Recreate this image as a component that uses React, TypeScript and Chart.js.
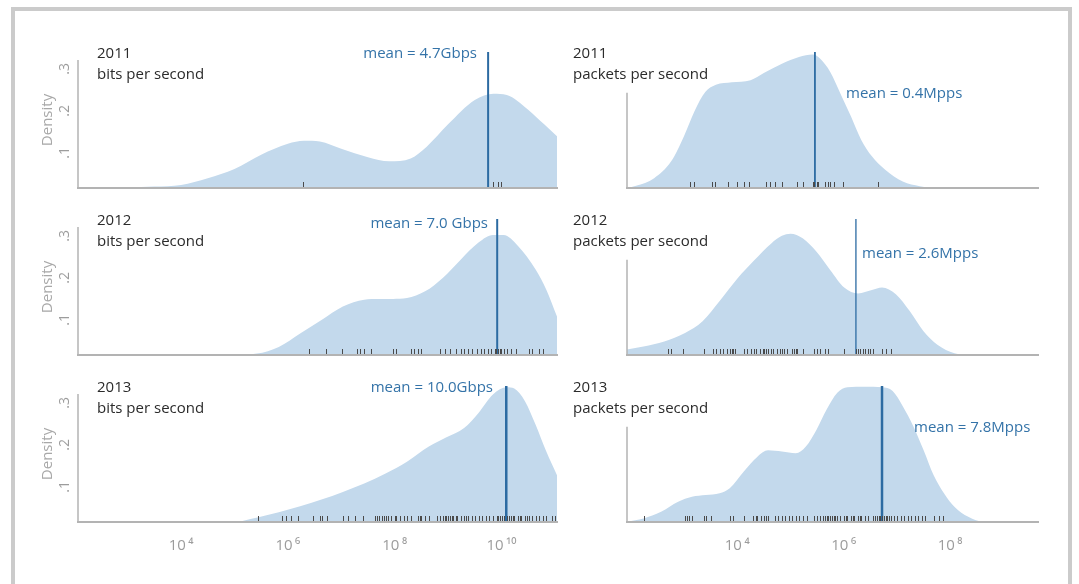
import React, { useEffect, useRef } from "react";
import { Chart, registerables } from "chart.js";

Chart.register(...registerables);

const FONT = '"Open Sans", "Noto Sans", "DejaVu Sans", sans-serif';

// ---- shared axis values ----
const densityMin = 0.0167;
const densityMax = 0.34;
const densityTicks = [0.1, 0.2, 0.3];
const densityTickLabels = [".1", ".2", ".3"];

// x axes are in log10 units
const bpsRange = [2.07, 11.04];
const ppsRange = [1.93, 9.65];
const bpsTicks = [4, 6, 8, 10];
const bpsTickLabels = ["10\u2009\u2074", "10\u2009\u2076", "10\u2009\u2078", "10\u2009\u00b9\u2070"];
const ppsTicks = [4, 6, 8];
const ppsTickLabels = ["10\u2009\u2074", "10\u2009\u2076", "10\u2009\u2078"];

// ---- 2011 bits per second ----
const bps2011X = [2.07, 2.5, 3.0, 3.5, 4.0, 4.5, 5.0, 5.5, 6.0, 6.3, 6.6, 7.0, 7.5, 7.9, 8.3, 8.6, 9.0, 9.5, 9.85, 10.1, 10.5, 10.8, 11.04];
const bps2011Y = [0.017, 0.017, 0.018, 0.02, 0.024, 0.04, 0.062, 0.096, 0.122, 0.129, 0.127, 0.11, 0.09, 0.08, 0.087, 0.115, 0.168, 0.226, 0.241, 0.238, 0.203, 0.168, 0.14];
const bps2011Rug = [6.29, 9.84, 9.93, 10.0];
const bps2011Mean = 9.75;

// ---- 2011 packets per second ----
const pps2011X = [1.93, 2.1, 2.44, 2.76, 3.0, 3.2, 3.4, 3.6, 3.9, 4.25, 4.5, 4.84, 5.16, 5.42, 5.55, 5.75, 5.94, 6.14, 6.33, 6.53, 6.78, 7.11, 7.43, 7.76, 9.65];
const pps2011Y = [0.017, 0.022, 0.04, 0.08, 0.14, 0.2, 0.245, 0.262, 0.268, 0.273, 0.29, 0.312, 0.328, 0.334, 0.325, 0.292, 0.241, 0.186, 0.131, 0.092, 0.06, 0.032, 0.021, 0.017, 0.017];
const pps2011Rug = [3.12, 3.18, 3.52, 3.59, 3.83, 4.0, 4.13, 4.22, 4.55, 4.61, 4.71, 4.84, 5.13, 5.23, 5.42, 5.45, 5.49, 5.52, 5.65, 5.71, 5.75, 5.81, 5.99, 6.65];
const pps2011Mean = 5.46;

// ---- 2012 bits per second ----
const bps2012X = [2.07, 4.0, 5.0, 5.42, 5.83, 6.23, 6.63, 7.03, 7.43, 7.7, 7.97, 8.23, 8.57, 8.9, 9.24, 9.57, 9.84, 10.04, 10.31, 10.64, 10.84, 11.04];
const bps2012Y = [0.017, 0.017, 0.017, 0.02, 0.036, 0.068, 0.1, 0.132, 0.148, 0.15, 0.15, 0.152, 0.168, 0.2, 0.244, 0.284, 0.302, 0.302, 0.276, 0.22, 0.172, 0.108];
const bps2012Rug = [6.39, 6.71, 7.02, 7.3, 7.36, 7.43, 7.56, 7.97, 8.03, 8.3, 8.37, 8.44, 8.5, 8.84, 8.94, 9.04, 9.14, 9.24, 9.3, 9.37, 9.44, 9.54, 9.61, 9.67, 9.74, 9.81, 9.87, 9.9, 9.94, 9.97, 10.0, 10.04, 10.1, 10.17, 10.27, 10.51, 10.57, 10.71, 10.78];
const bps2012Mean = 9.92;

// ---- 2012 packets per second ----
const pps2012X = [1.93, 2.24, 2.63, 3.02, 3.35, 3.67, 4.0, 4.32, 4.64, 4.84, 5.0, 5.23, 5.49, 5.75, 6.01, 6.27, 6.53, 6.72, 6.98, 7.24, 7.5, 7.76, 8.08, 8.41, 9.65];
const pps2012Y = [0.03, 0.037, 0.049, 0.069, 0.097, 0.145, 0.198, 0.242, 0.282, 0.3, 0.305, 0.294, 0.262, 0.218, 0.177, 0.163, 0.171, 0.177, 0.161, 0.121, 0.073, 0.041, 0.021, 0.017, 0.017];
const pps2012Rug = [2.7, 2.76, 2.99, 3.38, 3.54, 3.61, 3.67, 3.74, 3.8, 3.87, 3.9, 3.93, 3.96, 4.12, 4.19, 4.25, 4.32, 4.35, 4.42, 4.48, 4.51, 4.55, 4.58, 4.64, 4.68, 4.74, 4.81, 4.84, 4.87, 4.94, 5.03, 5.07, 5.1, 5.13, 5.23, 5.45, 5.49, 5.55, 5.65, 5.71, 6.01, 6.23, 6.27, 6.3, 6.36, 6.4, 6.46, 6.49, 6.56, 6.72, 6.79, 6.88];
const pps2012Mean = 6.23;

// ---- 2013 bits per second ----
const bps2013X = [2.07, 4.5, 5.0, 5.3, 5.6, 5.83, 6.23, 6.63, 7.03, 7.43, 7.83, 8.23, 8.64, 8.97, 9.3, 9.57, 9.84, 10.1, 10.24, 10.44, 10.64, 10.84, 11.04];
const bps2013Y = [0.017, 0.017, 0.017, 0.024, 0.033, 0.04, 0.054, 0.07, 0.088, 0.108, 0.132, 0.16, 0.196, 0.218, 0.24, 0.276, 0.32, 0.337, 0.334, 0.304, 0.248, 0.184, 0.128];
const bps2013Rug = [5.44, 5.89, 5.96, 6.06, 6.19, 6.48, 6.6, 6.63, 6.73, 7.03, 7.13, 7.26, 7.4, 7.63, 7.67, 7.7, 7.77, 7.8, 7.83, 7.87, 7.93, 8.0, 8.03, 8.1, 8.17, 8.23, 8.3, 8.43, 8.47, 8.5, 8.57, 8.64, 8.8, 8.84, 8.9, 8.94, 8.97, 9.0, 9.04, 9.07, 9.1, 9.14, 9.17, 9.24, 9.3, 9.34, 9.37, 9.44, 9.5, 9.57, 9.64, 9.71, 9.77, 9.84, 9.91, 9.94, 9.97, 10.01, 10.04, 10.11, 10.14, 10.17, 10.21, 10.24, 10.31, 10.34, 10.37, 10.44, 10.47, 10.51, 10.58, 10.64, 10.71, 10.78, 10.84, 10.94, 11.01];
const bps2013Mean = 10.09;

// ---- 2013 packets per second ----
const pps2013X = [1.93, 2.24, 2.57, 2.89, 3.15, 3.41, 3.67, 3.86, 4.12, 4.38, 4.58, 4.84, 5.1, 5.29, 5.49, 5.68, 5.88, 6.07, 6.4, 6.72, 6.92, 7.11, 7.31, 7.5, 7.69, 7.89, 8.08, 8.34, 8.6, 9.65];
const pps2013Y = [0.017, 0.025, 0.041, 0.065, 0.077, 0.081, 0.085, 0.097, 0.136, 0.172, 0.187, 0.184, 0.18, 0.196, 0.236, 0.284, 0.324, 0.337, 0.338, 0.337, 0.328, 0.292, 0.244, 0.188, 0.128, 0.084, 0.053, 0.029, 0.018, 0.017];
const pps2013Rug = [2.24, 3.02, 3.05, 3.09, 3.15, 3.38, 3.41, 3.51, 3.87, 3.93, 4.12, 4.29, 4.35, 4.38, 4.45, 4.51, 4.55, 4.58, 4.71, 4.77, 4.84, 4.9, 4.97, 5.03, 5.1, 5.16, 5.23, 5.32, 5.45, 5.49, 5.55, 5.62, 5.65, 5.68, 5.71, 5.75, 5.78, 5.81, 5.84, 5.88, 5.94, 6.01, 6.04, 6.07, 6.14, 6.17, 6.2, 6.27, 6.3, 6.33, 6.4, 6.46, 6.56, 6.59, 6.62, 6.66, 6.69, 6.72, 6.75, 6.79, 6.82, 6.85, 6.88, 6.95, 7.01, 7.08, 7.14, 7.21, 7.27, 7.34, 7.4, 7.47, 7.53, 7.69, 7.79, 7.86];
const pps2013Mean = 6.72;

// ---- styling / layout ----
const FILL = "#c3d9ec";
const MEAN_COLOR = "#2c6ba2";
const MEAN_TEXT = "#3473a8";
const AXIS_COLOR = "#b3b3b3";
const TICK_TEXT = "#9c9c9c";
const TITLE_TEXT = "#2b2b2b";
const RUG_COLOR = "#4a4a4a";

const ROW_TOP = [52, 219, 386];
const AREA_H = 136;

type Side = "left" | "right";
const SIDES: Record<Side, any> = {
  left: { areaLeft: 78, areaRight: 557, padLeft: 52, range: bpsRange, ticks: bpsTicks, tickLabels: bpsTickLabels, axisTop: 0.321, metric: "bits per second", titleX: 97 },
  right: { areaLeft: 627, areaRight: 1038, padLeft: 6, range: ppsRange, ticks: ppsTicks, tickLabels: ppsTickLabels, axisTop: 0.243, metric: "packets per second", titleX: 573 },
};

type PanelSpec = {
  year: string;
  side: Side;
  row: number;
  xs: number[];
  ys: number[];
  rug: number[];
  mean: number;
  meanLabel: string;
  meanWidth: number;
  label: { x: number; y: number; align: "left" | "right" };
};

const PANELS: PanelSpec[] = [
  { year: "2011", side: "left", row: 0, xs: bps2011X, ys: bps2011Y, rug: bps2011Rug, mean: bps2011Mean, meanLabel: "mean = 4.7Gbps", meanWidth: 2, label: { x: 477, y: 52, align: "right" } },
  { year: "2011", side: "right", row: 0, xs: pps2011X, ys: pps2011Y, rug: pps2011Rug, mean: pps2011Mean, meanLabel: "mean = 0.4Mpps", meanWidth: 1.8, label: { x: 846, y: 92, align: "left" } },
  { year: "2012", side: "left", row: 1, xs: bps2012X, ys: bps2012Y, rug: bps2012Rug, mean: bps2012Mean, meanLabel: "mean = 7.0 Gbps", meanWidth: 2, label: { x: 488, y: 222, align: "right" } },
  { year: "2012", side: "right", row: 1, xs: pps2012X, ys: pps2012Y, rug: pps2012Rug, mean: pps2012Mean, meanLabel: "mean = 2.6Mpps", meanWidth: 1.3, label: { x: 862, y: 252, align: "left" } },
  { year: "2013", side: "left", row: 2, xs: bps2013X, ys: bps2013Y, rug: bps2013Rug, mean: bps2013Mean, meanLabel: "mean = 10.0Gbps", meanWidth: 2.5, label: { x: 493, y: 386, align: "right" } },
  { year: "2013", side: "right", row: 2, xs: pps2013X, ys: pps2013Y, rug: pps2013Rug, mean: pps2013Mean, meanLabel: "mean = 7.8Mpps", meanWidth: 2.5, label: { x: 914, y: 426, align: "left" } },
];

function Panel({ spec }: { spec: PanelSpec }) {
  const ref = useRef<HTMLCanvasElement | null>(null);
  const side = SIDES[spec.side];
  const isBottom = spec.row === 2;
  const padTop = 4;
  const padRight = 4;
  const xAxisH = isBottom ? 44 : 6;
  const width = side.padLeft + (side.areaRight - side.areaLeft) + padRight;
  const height = padTop + AREA_H + xAxisH;
  const left = side.areaLeft - side.padLeft;
  const top = ROW_TOP[spec.row] - padTop;

  useEffect(() => {
    const canvas = ref.current;
    if (!canvas) return;
    const decor = {
      id: "panelDecor",
      afterDatasetsDraw(chart: any) {
        const { ctx, chartArea, scales } = chart;
        const xs = scales.x;
        const ys = scales.y;
        ctx.save();
        // rug marks
        ctx.strokeStyle = RUG_COLOR;
        ctx.lineWidth = 1;
        ctx.beginPath();
        for (const v of spec.rug) {
          const px = Math.round(xs.getPixelForValue(v)) + 0.5;
          ctx.moveTo(px, chartArea.bottom - 1);
          ctx.lineTo(px, chartArea.bottom - 6);
        }
        ctx.stroke();
        // y axis line
        const yTop = ys.getPixelForValue(side.axisTop);
        ctx.strokeStyle = AXIS_COLOR;
        ctx.lineWidth = 1.5;
        ctx.beginPath();
        ctx.moveTo(chartArea.left, chartArea.bottom);
        ctx.lineTo(chartArea.left, yTop);
        ctx.stroke();
        if (spec.side === "left") {
          ctx.fillStyle = TICK_TEXT;
          ctx.font = `14px ${FONT}`;
          ctx.textAlign = "center";
          ctx.textBaseline = "middle";
          densityTicks.forEach((v, i) => {
            const py = ys.getPixelForValue(v);
            ctx.save();
            ctx.translate(chartArea.left - 13, py);
            ctx.rotate(-Math.PI / 2);
            ctx.fillText(densityTickLabels[i], 0, 0);
            ctx.restore();
          });
          ctx.fillStyle = "#a8a8a8";
          ctx.font = `15px ${FONT}`;
          ctx.save();
          ctx.translate(chartArea.left - 30, (chartArea.top + chartArea.bottom) / 2);
          ctx.rotate(-Math.PI / 2);
          ctx.fillText("Density", 0, 0);
          ctx.restore();
        }
        ctx.restore();
      },
    };
    const chart = new Chart(canvas, {
      type: "line",
      data: {
        datasets: [
          {
            data: [
              { x: spec.mean, y: densityMin },
              { x: spec.mean, y: densityMax },
            ],
            borderColor: MEAN_COLOR,
            borderWidth: spec.meanWidth,
            pointRadius: 0,
            fill: false,
          },
          {
            data: spec.xs.map((x, i) => ({ x, y: spec.ys[i] })),
            borderWidth: 0,
            borderColor: "rgba(0,0,0,0)",
            backgroundColor: FILL,
            fill: "origin",
            pointRadius: 0,
            cubicInterpolationMode: "monotone",
          },
        ],
      },
      options: {
        responsive: false,
        animation: false,
        events: [],
        layout: { padding: { left: side.padLeft, top: padTop, right: padRight, bottom: 0 } },
        plugins: { legend: { display: false }, tooltip: { enabled: false } },
        scales: {
          x: {
            type: "linear",
            min: side.range[0],
            max: side.range[1],
            grid: { display: false, drawTicks: false },
            border: { display: true, color: AXIS_COLOR, width: 2, z: 1 },
            afterBuildTicks: (s: any) => {
              s.ticks = side.ticks.map((v: number) => ({ value: v }));
            },
            afterFit: (s: any) => {
              s.height = xAxisH;
            },
            ticks: {
              display: isBottom,
              color: TICK_TEXT,
              font: { family: FONT, size: 15 },
              padding: 15,
              maxRotation: 0,
              minRotation: 0,
              autoSkip: false,
              callback: (_v: any, i: number) => side.tickLabels[i],
            },
          },
          y: { type: "linear", display: false, min: densityMin, max: densityMax },
        },
      } as any,
      plugins: [decor],
    });
    return () => chart.destroy();
  }, []);

  return (
    <canvas
      ref={ref}
      width={width}
      height={height}
      style={{ position: "absolute", left, top, width, height, display: "block" }}
    />
  );
}

const textBase: React.CSSProperties = {
  position: "absolute",
  fontFamily: FONT,
  fontSize: 15,
  lineHeight: "20px",
  whiteSpace: "nowrap",
};

export default function App() {
  return (
    <div style={{ position: "fixed", left: 0, top: 0, width: 1079, height: 584, background: "#fff", overflow: "hidden" }}>
      <div
        style={{
          position: "absolute",
          left: 11,
          top: 7,
          width: 1061,
          height: 640,
          border: "4px solid #cbcbcb",
          boxSizing: "border-box",
        }}
      />
      {PANELS.map((p, i) => {
        const side = SIDES[p.side];
        const rowTop = ROW_TOP[p.row];
        return (
          <React.Fragment key={i}>
            <Panel spec={p} />
            <span style={{ ...textBase, left: side.titleX, top: rowTop - 10.5, color: TITLE_TEXT }}>{p.year}</span>
            <span style={{ ...textBase, left: side.titleX, top: rowTop + 11, color: TITLE_TEXT }}>{side.metric}</span>
            <span
              style={{
                ...textBase,
                color: MEAN_TEXT,
                top: p.label.y - 10.5,
                ...(p.label.align === "right" ? { right: 1079 - p.label.x } : { left: p.label.x }),
              }}
            >
              {p.meanLabel}
            </span>
          </React.Fragment>
        );
      })}
    </div>
  );
}
